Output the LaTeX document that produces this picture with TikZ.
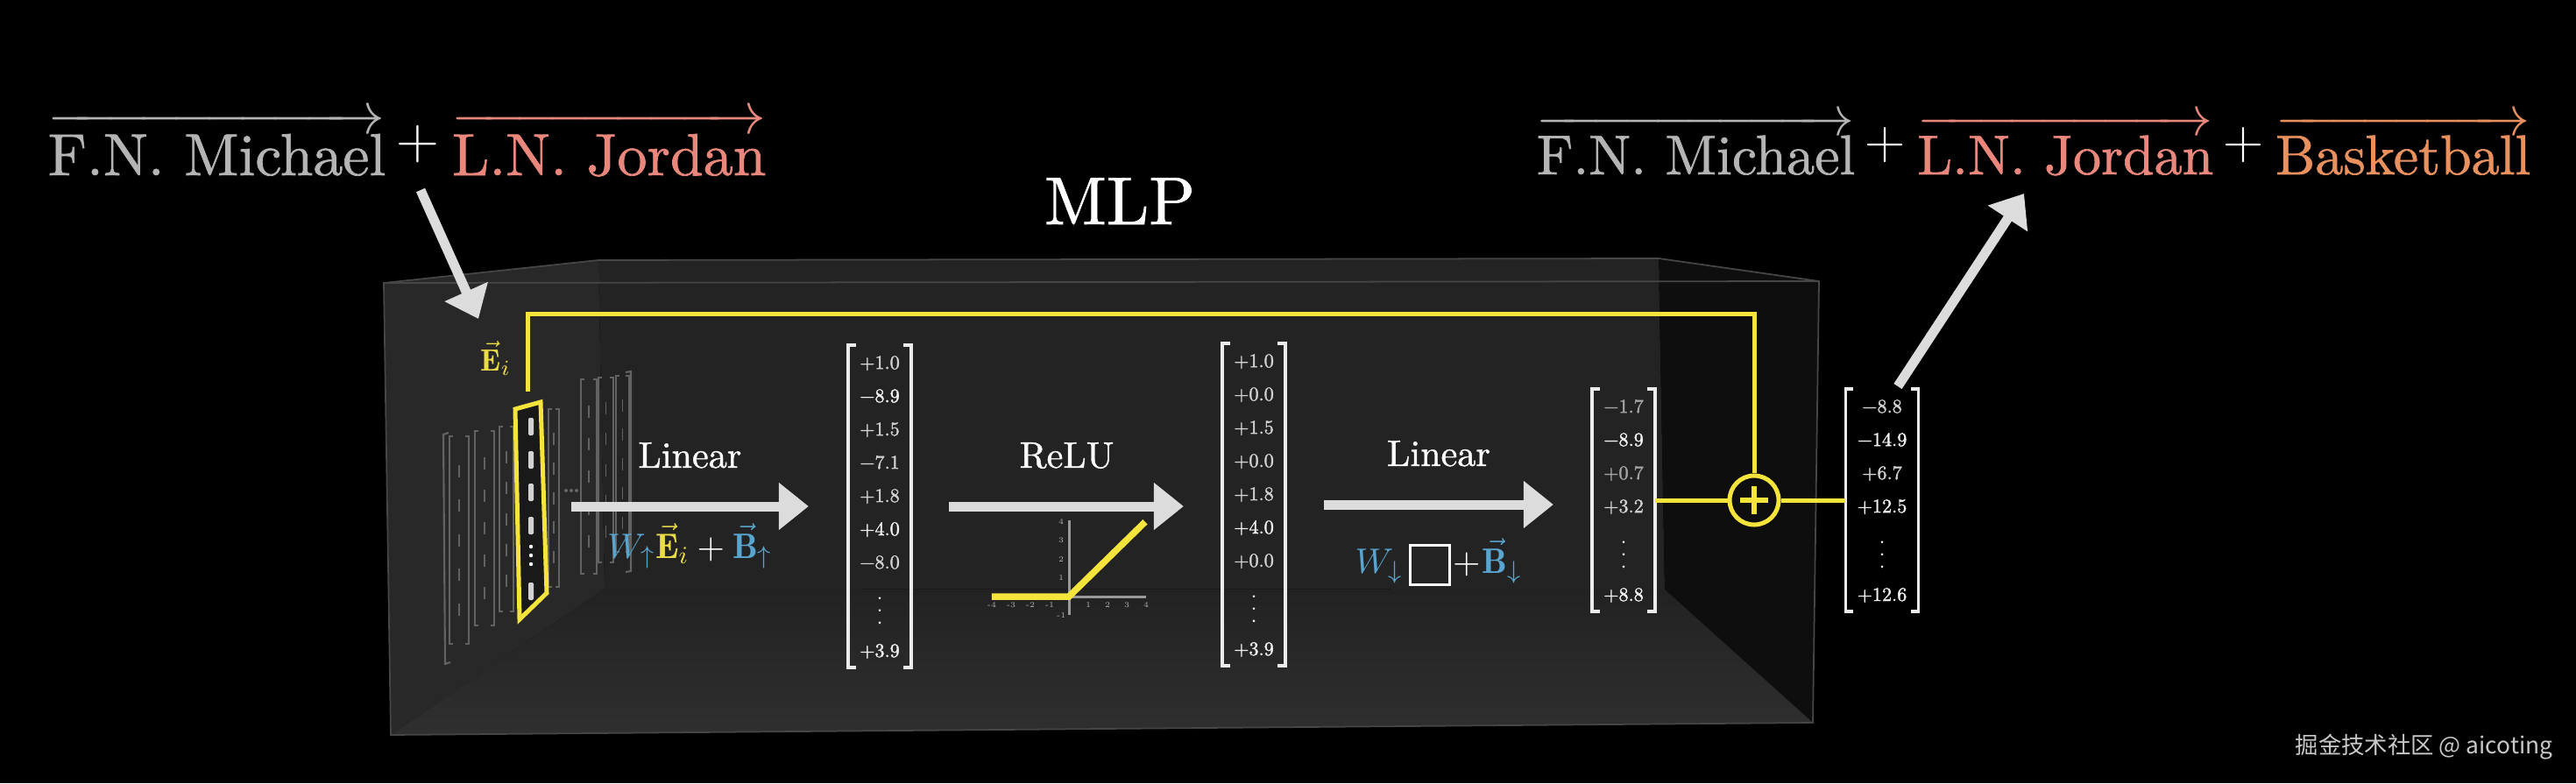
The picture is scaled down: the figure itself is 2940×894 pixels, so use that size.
\documentclass[tikz,border=0pt]{standalone}
\usepackage{fix-cm}
\usepackage{amsmath}
\usepackage{amssymb}
\usepackage{fontspec}
\newfontfamily\cjk{Noto Sans CJK SC}
\newfontfamily\heavy{lmroman10-regular.otf}[FakeBold=1.0]
\newfontfamily\numfont{lmroman10-regular.otf}[FakeBold=1.6]
\usepackage{tikz}
\usetikzlibrary{arrows.meta, positioning}

\definecolor{boxtop}{HTML}{3A3A3A}
\definecolor{boxback}{HTML}{232323}
\definecolor{boxleft}{HTML}{282828}
\definecolor{boxright}{HTML}{0E0E0E}
\definecolor{floortop}{HTML}{222222}
\definecolor{floorbot}{HTML}{2F2F2F}
\definecolor{edgec}{HTML}{464646}
\definecolor{arrowc}{HTML}{DCDCDC}
\definecolor{skipc}{HTML}{F5E43C}
\definecolor{ecol}{HTML}{EADB48}
\definecolor{wcol}{HTML}{5AA5CF}
\definecolor{fncol}{HTML}{B4B4B4}
\definecolor{lncol}{HTML}{EA877C}
\definecolor{bbcol}{HTML}{E8905E}
\definecolor{axisc}{HTML}{9A9A9A}
\definecolor{faintc}{HTML}{626262}
\definecolor{brkc}{HTML}{EBEBEB}
\definecolor{numA}{HTML}{F2F2F2}
\definecolor{numB}{HTML}{D2D2D2}
\definecolor{numC}{HTML}{A6A6A6}
\definecolor{wmark}{HTML}{C8C8C8}

\tikzstyle{tok} = [inner sep=0pt, font=\fontsize{19.3}{23}\selectfont]
\tikzstyle{tokr} = [inner sep=0pt, font=\fontsize{18.2}{22}\selectfont]
\tikzstyle{bigarrow} = [draw=arrowc, line width=0.11cm, -{Triangle[length=0.34cm, width=0.52cm]}]
\tikzstyle{opname} = [text=white, font=\heavy\fontsize{12}{14}\selectfont, anchor=base, inner sep=0pt]
\tikzstyle{formula} = [text=white, font=\fontsize{11.5}{14}\selectfont, anchor=base, inner sep=0pt]
\tikzstyle{vecnode} = [text=white, font=\numfont\fontsize{6.3}{7.2}\selectfont, inner sep=0pt]
\tikzstyle{brk} = [draw=brkc, line width=1pt]
\tikzstyle{resline} = [draw=skipc, line width=0.05cm]
\tikzstyle{faint} = [draw=faintc, line width=0.4pt]
\tikzstyle{ticklbl} = [text=white!70!black, font=\fontsize{2.5}{3}\selectfont, inner sep=0pt]

\newcommand{\vcol}[1]{\setlength{\tabcolsep}{3.6pt}\renewcommand{\arraystretch}{1.5}\begin{tabular}{c}#1\end{tabular}}
\newcommand{\vbrackets}[1]{%
  \draw[brk] ([xshift=0.09cm]#1.north west) -- (#1.north west) -- (#1.south west) -- ([xshift=0.09cm]#1.south west);
  \draw[brk] ([xshift=-0.09cm]#1.north east) -- (#1.north east) -- (#1.south east) -- ([xshift=-0.09cm]#1.south east);}

\begin{document}
\begin{tikzpicture}[x=0.01cm, y=-0.01cm]
    \useasboundingbox (0,0) rectangle (2940,894);
    \fill[black] (0,0) rectangle (2940,894);

    % the box
    \fill[boxtop] (438,323) -- (683,297) -- (1893,295) -- (2076,321) -- cycle;
    \fill[boxback] (683,297) -- (1893,295) -- (1900,673) -- (690,672) -- cycle;
    \fill[boxleft] (438,323) -- (683,297) -- (690,672) -- (446,839) -- cycle;
    \fill[boxright] (1893,295) -- (2076,321) -- (2069,825) -- (1900,673) -- cycle;
    \shade[top color=floortop, bottom color=floorbot] (690,672) -- (1900,673) -- (2069,825) -- (446,839) -- cycle;
    \draw[edgec, line width=0.5pt] (438,323) -- (2076,321) -- (2069,825) -- (446,839) -- cycle;
    \draw[edgec, line width=0.5pt] (438,323) -- (683,297) -- (1893,295) -- (2076,321);

    % faint weight matrices
    \foreach \xa/\xb/\yt/\yb in {513/535/498/735, 542/564/492/714, 570/586/487/698, 626/638/467/670, 663/681/433/655, 683/700/431/642, 703/718/429/630}{
      \draw[faint] (\xa+4,\yt) -- (\xa,\yt) -- (\xa,\yb) -- (\xa+4,\yb);
      \draw[faint] (\xb-4,\yt) -- (\xb,\yt) -- (\xb,\yb) -- (\xb-4,\yb);
      \foreach \k in {1,...,5}
        \draw[faint] ({(\xa+\xb)/2},{\yt+(\yb-\yt)*\k/6-7}) -- ++(0,14);
    }
    \draw[faint, line width=0.6pt] (512,494) -- (506,496) -- (508,758) -- (514,756);
    \draw[faint, line width=0.6pt] (714,425) -- (720,424) -- (720,652) -- (714,653);
    \foreach \xx in {646,652,658} \fill[faintc] (\xx,560) circle (0.6pt);

    % embedding column
    \draw[resline, fill=black!90] (588,467) -- (617,459) -- (624,677) -- (593,707) -- cycle;
    \foreach \yy in {487,525,562,600,675} \fill[numB, rounded corners=0.4pt] (603,\yy-10) rectangle (609,\yy+10);
    \foreach \yy in {624,634,644} \fill[white] (606,\yy) circle (0.022cm);
    \coordinate (ecTop) at (602,447);
    \coordinate (ecOut) at (652,578);
    \node[font=\fontsize{10}{12}\selectfont, text=ecol, anchor=base, inner sep=0pt] (Ei) at (566,423) {$\vec{\mathbf{E}}_i$};

    % vectors
    \node[vecnode] (m1) at (1004,578) {\vcol{\color{numB}+1.0\\ \color{numA}−8.9\\ \color{numB}+1.5\\ \color{numB}−7.1\\ \color{numB}+1.8\\ \color{numA}+4.0\\ \color{numB}−8.0\\ $\vdots$\\ \color{numA}+3.9}};
    \vbrackets{m1}
    \node[vecnode] (m2) at (1431,576) {\vcol{\color{numB}+1.0\\ \color{numB}+0.0\\ \color{numB}+1.5\\ \color{numB}+0.0\\ \color{numB}+1.8\\ \color{numA}+4.0\\ \color{numB}+0.0\\ $\vdots$\\ \color{numA}+3.9}};
    \vbrackets{m2}
    \node[vecnode] (m3) at (1853,571) {\vcol{\color{numC}−1.7\\ \color{numA}−8.9\\ \color{numC}+0.7\\ \color{numB}+3.2\\ $\vdots$\\ \color{numA}+8.8}};
    \vbrackets{m3}
    \node[vecnode] (m4) at (2148,571) {\vcol{\color{numB}−8.8\\ \color{numA}−14.9\\ \color{numB}+6.7\\ \color{numA}+12.5\\ $\vdots$\\ \color{numA}+12.6}};
    \vbrackets{m4}

    % residual path
    \node[circle, draw=skipc, line width=0.05cm, minimum size=0.56cm, inner sep=0pt] (addop) at (2002,571) {};
    \draw[skipc, line width=0.055cm] ([xshift=-0.16cm]addop.center) -- ([xshift=0.16cm]addop.center)
      ([yshift=-0.16cm]addop.center) -- ([yshift=0.16cm]addop.center);
    \draw[resline] (ecTop) -- ++(0,-89) -| (addop.north);
    \draw[resline] (m3.east) -- (addop.west);
    \draw[resline] (addop.east) -- (m4.west);

    % layers
    \draw[bigarrow] (ecOut) -- node[opname, yshift=0.44cm] (lin1) {Linear}
      node[formula, yshift=-0.59cm] (f1) {$\textcolor{wcol}{W_{\uparrow}}\textcolor{ecol}{\vec{\mathbf{E}}_i}+\textcolor{wcol}{\vec{\mathbf{B}}_{\uparrow}}$}
      ([xshift=-0.45cm]m1.west);
    \draw[bigarrow, shorten <=0.43cm, shorten >=0.44cm] (m1.east) -- node[opname, yshift=0.44cm] (relu) {ReLU} (m1.east -| m2.west);
    \draw[bigarrow, shorten <=0.44cm, shorten >=0.44cm] (m2.east) -- node[opname, yshift=0.44cm] (lin2) {Linear}
      node[formula, yshift=-0.78cm] (f2) {$\textcolor{wcol}{W_{\downarrow}}\,\fboxsep=0pt\fboxrule=0.8pt\fbox{\rule[-3.4pt]{0pt}{11.9pt}\hspace{11.9pt}}\mkern1mu{+}\mkern1mu\textcolor{wcol}{\vec{\mathbf{B}}_{\downarrow}}$}
      (m2.east -| m3.west);

    % relu plot
    \begin{scope}[shift={(1220,681)}, x=0.22cm, y=0.213cm]
      \draw[axisc, line width=0.03cm] (-4,0) -- (4,0);
      \draw[axisc, line width=0.03cm] (0,-1) -- (0,4.1);
      \foreach \t in {-4,-3,-2,-1,1,2,3,4} \node[ticklbl] at (\t,-0.45) {\t};
      \foreach \t in {-1,1,2,3,4} \node[ticklbl] at (-0.4,\t) {\t};
      \draw[skipc, line width=0.075cm] (-4,0) -- (0,0) -- (3.95,4);
    \end{scope}

    % titles
    \node[text=white, font=\heavy\fontsize{22}{26}\selectfont, anchor=base, inner sep=0pt] (mlp) at (1278,256) {MLP};
    \node[tok, text=fncol, anchor=base west] (fn1) at (54,200) {$\overrightarrow{\text{\heavy F.N. Michael}}$};
    \node[tok, text=white, right=0.11cm of fn1] (p1) {$+$};
    \node[tok, text=lncol, anchor=base west, xshift=0.13cm] (ln1) at (p1.east |- fn1.base) {$\overrightarrow{\text{\heavy L.N. Jordan}}$};

    \node[tokr, text=fncol, anchor=base west] (fn2) at (1753,199) {$\overrightarrow{\text{\heavy F.N. Michael}}$};
    \node[tokr, text=white, right=0.1cm of fn2] (p2) {$+$};
    \node[tokr, text=lncol, anchor=base west, xshift=0.12cm] (ln2) at (p2.east |- fn2.base) {$\overrightarrow{\text{\heavy L.N. Jordan}}$};
    \node[tokr, text=white, right=0.1cm of ln2] (p3) {$+$};
    \node[tokr, text=bbcol, anchor=base west, xshift=0.12cm] (bb) at (p3.east |- fn2.base) {$\overrightarrow{\text{\heavy Basketball}}$};

    % in and out
    \coordinate (inTail) at (480,217);
    \coordinate (inTip) at (546,364);
    \coordinate (outTail) at (2166,441);
    \coordinate (outTip) at (2310,221);
    \draw[bigarrow] (inTail) -- (inTip);
    \draw[bigarrow] (outTail) -- (outTip);

    \node[anchor=east, text=wmark, font=\cjk\fontsize{7.5}{9}\selectfont, inner sep=0pt] (wm) at (2914,853) {掘金技术社区 @ aicoting};
  \end{tikzpicture}
\end{document}
